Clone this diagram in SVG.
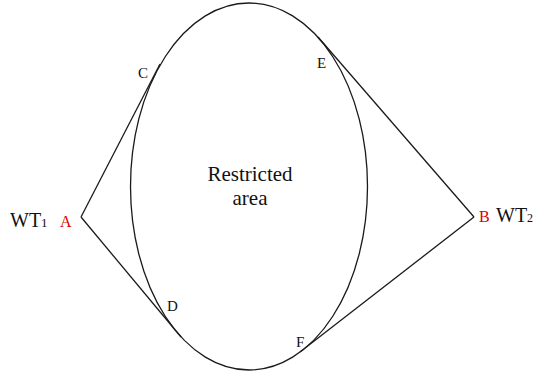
<svg xmlns="http://www.w3.org/2000/svg" width="534" height="379" viewBox="0 0 534 379">
<style>
.ln{stroke:#1a1a1a;stroke-width:1.3;fill:none}
.t{font-family:"Liberation Serif","Times New Roman",serif;fill:#111}
.lbl{font-size:15px}
.red{fill:#e00000;font-size:16px}
</style>
<rect width="534" height="379" fill="#fff"/>
<g id="restricted-area">
<ellipse class="ln" cx="249" cy="186.5" rx="118.5" ry="183.5"/>
<text class="t" x="250" y="181" font-size="21" text-anchor="middle">Restricted</text>
<text class="t" x="250" y="205" font-size="21" text-anchor="middle">area</text>
</g>
<g id="connectors">
<line class="ln" x1="81" y1="217" x2="160" y2="64"/>
<line class="ln" x1="81" y1="217" x2="181" y2="337"/>
<line class="ln" x1="474" y1="217" x2="318" y2="37"/>
<line class="ln" x1="474" y1="217" x2="300" y2="352"/>
</g>
<g id="WT1">
<text class="t" x="10" y="227" font-size="20">WT<tspan font-size="13">1</tspan></text>
<text class="t red" x="60" y="227">A</text>
</g>
<g id="WT2">
<text class="t red" x="479" y="222">B</text>
<text class="t" x="496" y="222" font-size="20">WT<tspan font-size="12">2</tspan></text>
</g>
<g id="C"><text class="t lbl" x="138" y="78">C</text></g>
<g id="E"><text class="t lbl" x="317" y="68">E</text></g>
<g id="D"><text class="t lbl" x="167" y="311">D</text></g>
<g id="F"><text class="t lbl" x="296" y="347">F</text></g>
</svg>
